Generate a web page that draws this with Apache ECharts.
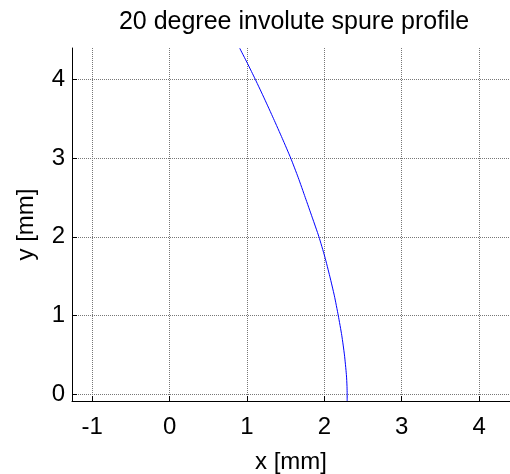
<!DOCTYPE html>
<html>
<head>
<meta charset="utf-8">
<script src="https://cdn.jsdelivr.net/npm/echarts@6/dist/echarts.min.js"></script>
<style>html,body{margin:0;padding:0;background:#fff}#c{width:510px;height:474px}</style>
</head>
<body>
<div id="c"></div>
<script>
var xValues = [0.906, 1.007, 1.107, 1.227, 1.343, 1.456, 1.565, 1.663, 1.753, 1.842, 1.930, 2.005, 2.070, 2.130, 2.180, 2.225, 2.260, 2.285, 2.293, 2.295, 2.295];
var yValues = [4.394, 4.200, 4.000, 3.750, 3.500, 3.250, 3.000, 2.750, 2.500, 2.250, 2.000, 1.750, 1.500, 1.250, 1.000, 0.750, 0.500, 0.250, 0.100, 0.000, -0.085];
var xTicks = [-1, 0, 1, 2, 3, 4];
var yTicks = [0, 1, 2, 3, 4];

var points = xValues.map(function (x, i) { return [x, yValues[i]]; });
var font = 'Liberation Sans, Arial, sans-serif';
var chart = echarts.init(document.getElementById('c'), null, {renderer: 'canvas'});
chart.setOption({
  animation: false,
  backgroundColor: '#ffffff',
  title: {
    text: '20 degree involute spure profile',
    left: 294, top: 10, textAlign: 'center', padding: 0,
    textStyle: {fontFamily: font, fontSize: 25, fontWeight: 'normal', color: '#000'}
  },
  grid: {left: 72, right: 0, top: 48, bottom: 73, containLabel: false, outerBoundsMode: 'none'},
  xAxis: {
    type: 'value', min: -1.262, max: 4.40,
    name: 'x [mm]', nameLocation: 'middle', nameGap: 49,
    nameTextStyle: {fontFamily: font, fontSize: 24, color: '#000'},
    axisLine: {show: true, onZero: false, lineStyle: {color: '#000', width: 1}},
    axisTick: {show: true, inside: true, length: 5, customValues: xTicks, lineStyle: {color: '#000'}},
    axisLabel: {customValues: xTicks, margin: 14, fontFamily: font, fontSize: 24, color: '#000'},
    splitLine: {show: true, lineStyle: {color: '#777', type: 'dotted', width: 1}}
  },
  yAxis: {
    type: 'value', min: -0.085, max: 4.397,
    name: 'y [mm]', nameLocation: 'middle', nameGap: 34,
    nameTextStyle: {fontFamily: font, fontSize: 24, color: '#000'},
    axisLine: {show: true, onZero: false, lineStyle: {color: '#000', width: 1}},
    axisTick: {show: true, inside: true, length: 5, customValues: yTicks, lineStyle: {color: '#000'}},
    axisLabel: {customValues: yTicks, margin: 7, fontFamily: font, fontSize: 24, color: '#000'},
    splitLine: {show: true, lineStyle: {color: '#777', type: 'dotted', width: 1}}
  },
  series: [{
    type: 'line', data: points, smooth: 0.2, showSymbol: false, clip: true,
    lineStyle: {color: '#0000ff', width: 1}
  }]
});
</script>
</body>
</html>
